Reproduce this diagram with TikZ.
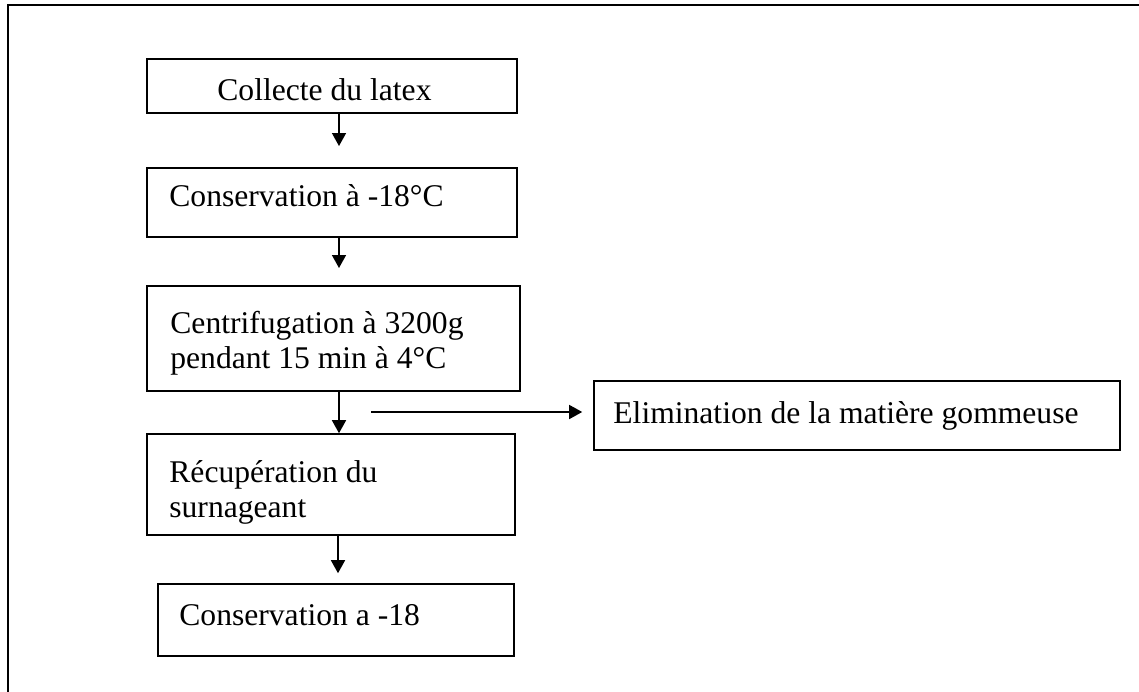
\documentclass[tikz,border=0pt]{standalone}
\usepackage{fontspec}
\setmainfont{Liberation Serif}
\usetikzlibrary{arrows.meta,fit}
\begin{document}
\begin{tikzpicture}[x=0.5pt,y=-0.5pt,
  box/.style={draw, line width=0.8pt, inner sep=0pt, rectangle},
  lbl/.style={anchor=base west, inner sep=0pt, font=\fontsize{15.8pt}{17.5pt}\selectfont},
  arr/.style={line width=0.75pt, -{Triangle[length=6.5pt,width=7pt]}}]
\useasboundingbox (0,0) rectangle (1139,691);
% open frame along the top and left edges
\draw[line width=1pt] (8,700) -- (8,5) -- (1150,5);

% process steps
\node[box, fit={(147,59) (517,113)}] (b1) {};
\node[box, fit={(147,168) (517,237)}] (b2) {};
\node[box, fit={(147,286) (520,391)}] (b3) {};
\node[box, fit={(147,434) (515,535)}] (b4) {};
\node[box, fit={(594,381) (1120,450)}] (b5) {};
\node[box, fit={(158,584) (514,656)}] (b6) {};

% texts
\node[lbl] (t1) at (217,100) {Collecte du latex};
\node[lbl] (t2) at (169,206) {Conservation à -18°C};
\node[lbl] (t3a) at (170,333) {Centrifugation à 3200g};
\node[lbl] (t3b) at (170,368) {pendant 15 min à 4°C};
\node[lbl] (t4a) at (169,482) {Récupération du};
\node[lbl] (t4b) at (169,517) {surnageant};
\node[lbl] (t5) at (613,423) {Elimination de la matière gommeuse};
\node[lbl] (t6) at (179,625) {Conservation a -18};

% arrow positions
\coordinate (ax) at (339,0);
\coordinate (ax4) at (338,0);
\coordinate (tip1) at (339,146);
\coordinate (tip2) at (339,268);
\coordinate (h0) at (371,412);

% connectors
\draw[arr] (b1.south -| ax) -- (tip1);
\draw[arr] (b2.south -| ax) -- (tip2);
\draw[arr] (b3.south -| ax) -- (b4.north -| ax);
\draw[arr, shorten >=5.5pt] (h0) -- (h0 -| b5.west);
\draw[arr, shorten >=5pt] (b4.south -| ax4) -- (b6.north -| ax4);
\end{tikzpicture}
\end{document}
